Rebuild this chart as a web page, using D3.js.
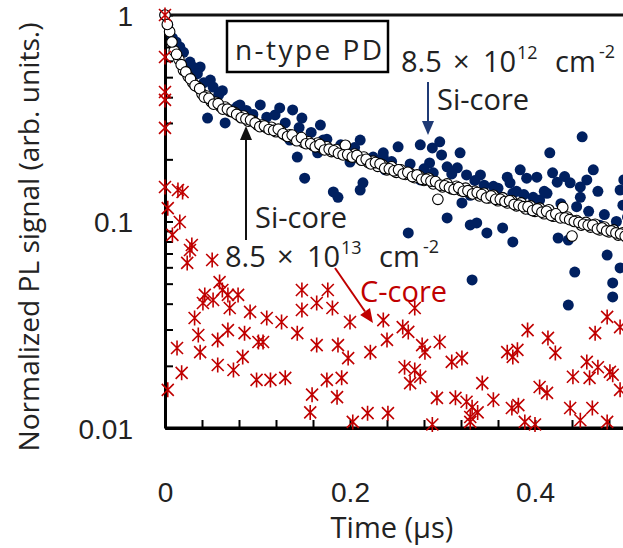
<!DOCTYPE html>
<html lang="en">
<head>
  <meta charset="UTF-8">
  <title>Normalized PL decay, n-type PD</title>
  <script src="https://d3js.org/d3.v7.min.js"></script>
  <style>
    body { margin: 0; background: #fff; }
    svg { font-family: "Open Sans", "Noto Sans", sans-serif; display: block; }
    .axis text { font-size: 28px; fill: #222; }
    .note { font-size: 29px; fill: #222; }
  </style>
</head>
<body>
<svg width="623" height="548"></svg>

<script>
  // Si-core, 8.5 x 10^13 cm^-2 (open circles): [time (us), normalized PL]
  const siCoreHigh = [
    [0,1.0],[0.005,0.83],[0.01,0.67],[0.015,0.61],[0.02,0.54],[0.025,0.505],[0.03,0.47],[0.035,0.45],
    [0.04,0.415],[0.045,0.405],[0.05,0.38],[0.055,0.378],[0.06,0.36],[0.065,0.358],[0.07,0.342],
    [0.075,0.338],[0.08,0.325],[0.085,0.324],[0.09,0.306],[0.095,0.307],[0.1,0.294],[0.105,0.293],
    [0.11,0.284],[0.115,0.286],[0.12,0.272],[0.125,0.275],[0.13,0.262],[0.135,0.263],[0.14,0.25],
    [0.145,0.252],[0.15,0.241],[0.155,0.243],[0.16,0.234],[0.165,0.24],[0.17,0.226],[0.175,0.23],
    [0.18,0.218],[0.185,0.223],[0.19,0.213],[0.195,0.234],[0.2,0.207],[0.205,0.212],[0.21,0.202],
    [0.215,0.205],[0.22,0.193],[0.225,0.196],[0.23,0.185],[0.235,0.188],[0.24,0.178],[0.245,0.184],
    [0.25,0.173],[0.255,0.178],[0.26,0.169],[0.265,0.171],[0.27,0.163],[0.275,0.166],[0.28,0.158],
    [0.285,0.162],[0.29,0.152],[0.295,0.128],[0.3,0.147],[0.305,0.152],[0.31,0.144],[0.315,0.148],
    [0.32,0.141],[0.325,0.145],[0.33,0.138],[0.335,0.14],[0.34,0.133],[0.345,0.137],[0.35,0.13],
    [0.355,0.134],[0.36,0.126],[0.365,0.13],[0.37,0.123],[0.375,0.126],[0.38,0.119],[0.385,0.123],
    [0.39,0.115],[0.395,0.119],[0.4,0.112],[0.405,0.116],[0.41,0.109],[0.415,0.114],[0.42,0.106],
    [0.425,0.108],[0.43,0.117],[0.435,0.105],[0.44,0.085],[0.445,0.101],[0.45,0.096],[0.455,0.099],
    [0.46,0.094],[0.465,0.097],[0.47,0.091],[0.475,0.094],[0.48,0.089],[0.485,0.091],[0.49,0.086],
    [0.495,0.088],[0.5,0.083],
    [0.0025,0.90],[0.0075,0.74],[0.0125,0.645],[0.0175,0.575],[0.0225,0.53],[0.0275,0.49],
    [0.0325,0.455],[0.0375,0.44],[0.0425,0.40],[0.0475,0.395],[0.0525,0.37],[0.0575,0.372],
    [0.0625,0.35],[0.0675,0.35],[0.0725,0.34],[0.0775,0.33],[0.0825,0.318],[0.0875,0.314],
    [0.0925,0.31],[0.0975,0.30],[0.1025,0.288],[0.1075,0.29],[0.1125,0.279],[0.1175,0.276],
    [0.1225,0.28],[0.1275,0.266],[0.1325,0.258],[0.1375,0.262],[0.1425,0.246],[0.1475,0.255],
    [0.1525,0.238],[0.1575,0.238],[0.1625,0.23],[0.1675,0.236],[0.1725,0.222],[0.1775,0.224],
    [0.1825,0.22],[0.1875,0.214],[0.1925,0.21],[0.1975,0.211],[0.2025,0.205],[0.2075,0.209],
    [0.2125,0.198],[0.2175,0.2],[0.2225,0.19],[0.2275,0.193],[0.2325,0.19],[0.2375,0.181],
    [0.2425,0.18],[0.2475,0.176],[0.2525,0.178],[0.2575,0.17],[0.2625,0.173],[0.2675,0.165],
    [0.2725,0.168],[0.2775,0.16],[0.2825,0.16],[0.2875,0.157],[0.2925,0.156],[0.2975,0.15],
    [0.3025,0.149],[0.3075,0.146],[0.3125,0.143],[0.3175,0.146],[0.3225,0.14],[0.3275,0.141],
    [0.3325,0.136],[0.3375,0.138],[0.3425,0.135],[0.3475,0.13],[0.3525,0.133],[0.3575,0.128],
    [0.3625,0.128],[0.3675,0.125],[0.3725,0.126],[0.3775,0.121],[0.3825,0.12],[0.3875,0.118],
    [0.3925,0.118],[0.3975,0.113],[0.4025,0.115],[0.4075,0.111],[0.4125,0.112],[0.4175,0.107],
    [0.4225,0.109],[0.4275,0.104],[0.4325,0.104],[0.4375,0.102],[0.4425,0.1],[0.4475,0.099],
    [0.4525,0.097],[0.4575,0.096],[0.4625,0.096],[0.4675,0.092],[0.4725,0.093],[0.4775,0.09],
    [0.4825,0.09],[0.4875,0.088],[0.4925,0.087],[0.4975,0.085]
  ];

  // Si-core, 8.5 x 10^12 cm^-2 (filled navy dots)
  const siCoreLow = [
    [0,1.0],[0.003,0.894],[0.008,0.774],[0.016,0.70],[0.027,0.592],[0.038,0.56],[0.046,0.317],
    [0.049,0.484],[0.052,0.448],[0.065,0.30],[0.072,0.347],[0.081,0.367],[0.103,0.367],[0.103,0.293],
    [0.119,0.328],[0.124,0.355],[0.135,0.248],[0.138,0.347],[0.143,0.205],[0.148,0.317],[0.151,0.162],
    [0.165,0.215],[0.168,0.293],[0.171,0.248],[0.182,0.139],[0.187,0.131],[0.2,0.194],[0.211,0.248],
    [0.211,0.142],[0.214,0.154],[0.236,0.215],[0.236,0.205],[0.238,0.178],[0.251,0.178],[0.252,0.23],
    [0.263,0.088],[0.276,0.235],[0.276,0.159],[0.286,0.192],[0.289,0.227],[0.297,0.243],[0.299,0.21],
    [0.305,0.184],[0.305,0.104],[0.316,0.182],[0.319,0.215],[0.321,0.123],[0.326,0.168],[0.33,0.0962],
    [0.33,0.134],[0.332,0.0521],[0.337,0.0984],[0.341,0.168],[0.348,0.088],[0.365,0.131],[0.365,0.0931],
    [0.37,0.164],[0.373,0.154],[0.376,0.137],[0.376,0.0796],[0.384,0.178],[0.391,0.162],[0.395,0.114],
    [0.398,0.131],[0.402,0.164],[0.413,0.137],[0.416,0.215],[0.419,0.172],[0.424,0.155],[0.425,0.0832],
    [0.436,0.0813],[0.436,0.0394],[0.438,0.154],[0.443,0.0569],[0.449,0.147],[0.449,0.131],[0.451,0.257],
    [0.456,0.159],[0.463,0.178],[0.47,0.096],[0.478,0.0688],[0.484,0.0504],[0.484,0.0431],[0.492,0.142],
    [0.492,0.0596],
    [0.012,0.74],[0.02,0.66],[0.03,0.56],[0.035,0.52],[0.042,0.47],[0.058,0.41],[0.062,0.43],
    [0.078,0.36],[0.088,0.345],[0.095,0.33],[0.11,0.32],[0.13,0.3],[0.145,0.285],[0.158,0.27],
    [0.175,0.25],[0.19,0.235],[0.205,0.228],[0.225,0.205],[0.245,0.195],[0.265,0.19],[0.28,0.18],
    [0.29,0.172],[0.31,0.17],[0.335,0.158],[0.345,0.15],[0.355,0.148],[0.36,0.145],[0.38,0.14],
    [0.388,0.135],[0.405,0.127],[0.41,0.14],[0.428,0.122],[0.432,0.165],[0.445,0.118],[0.458,0.112],
    [0.468,0.14],[0.475,0.108],[0.488,0.1],[0.495,0.12],[0.5,0.105],[0.496,0.159]
  ];

  // C-core, 8.5 x 10^13 cm^-2 (red asterisks)
  const cCore = [
    [0,1.0],[0,0.626],[0,0.424],[0,0.388],[0,0.284],[0,0.147],[0.003,0.116],[0.003,0.0153],
    [0.008,0.0861],[0.013,0.0244],[0.014,0.142],[0.016,0.0995],[0.018,0.0185],[0.019,0.139],
    [0.024,0.063],[0.027,0.0728],[0.029,0.0769],[0.032,0.0341],[0.036,0.0282],[0.038,0.0233],
    [0.041,0.0403],[0.043,0.0441],[0.051,0.0651],[0.052,0.0417],[0.057,0.0267],[0.057,0.0202],
    [0.059,0.0509],[0.062,0.0466],[0.068,0.0441],[0.068,0.0298],[0.07,0.0381],[0.074,0.0191],
    [0.079,0.0441],[0.084,0.0221],[0.086,0.0288],[0.092,0.0365],[0.099,0.0171],[0.101,0.0261],
    [0.106,0.0261],[0.11,0.0341],[0.114,0.0171],[0.126,0.0326],[0.13,0.0175],[0.143,0.0288],
    [0.148,0.0466],[0.148,0.0373],[0.157,0.0119],[0.159,0.0145],[0.164,0.0403],[0.164,0.0252],
    [0.175,0.0171],[0.176,0.0466],[0.181,0.0381],[0.186,0.0141],[0.187,0.0252],[0.191,0.0175],
    [0.198,0.0218],[0.2,0.0326],[0.203,0.0107],[0.219,0.0118],[0.222,0.0233],[0.236,0.0333],
    [0.24,0.0267],[0.241,0.0118],[0.257,0.0308],[0.259,0.0197],[0.263,0.0292],[0.265,0.0165],
    [0.27,0.0381],[0.27,0.0191],[0.276,0.0177],[0.278,0.0252],[0.281,0.0233],[0.289,0.0104],
    [0.294,0.014],[0.297,0.0261],[0.31,0.0209],[0.314,0.014],[0.321,0.0218],[0.326,0.0134],
    [0.33,0.0113],[0.33,0.0107],[0.332,0.0126],[0.338,0.0119],[0.343,0.0165],[0.355,0.0137],
    [0.37,0.0233],[0.375,0.0125],[0.376,0.0221],[0.381,0.0239],[0.382,0.0129],[0.389,0.0107],
    [0.392,0.0298],[0.4,0.0104],[0.405,0.0158],[0.413,0.0148],[0.414,0.0273],[0.422,0.0231],
    [0.438,0.0125],[0.441,0.0177],[0.449,0.0109],[0.456,0.0209],[0.459,0.0175],[0.462,0.0125],
    [0.465,0.0288],[0.468,0.0197],[0.478,0.0345],[0.478,0.0107],[0.481,0.0187],[0.484,0.0181],
    [0.492,0.0308],[0.492,0.0153]
  ];

  const xTicks = [0, 0.04, 0.08, 0.12, 0.16, 0.2, 0.24, 0.28, 0.32, 0.36, 0.4, 0.44, 0.48];
  const xLabels = {0: "0", 0.2: "0.2", 0.4: "0.4"};
  const yTicks = [0.01, 0.02, 0.03, 0.04, 0.05, 0.06, 0.07, 0.08, 0.09,
                  0.1, 0.2, 0.3, 0.4, 0.5, 0.6, 0.7, 0.8, 0.9, 1];
  const yLabels = {1: "1", 0.1: "0.1", 0.01: "0.01"};

  const svg = d3.select("svg");
  const W = 623;

  const x = d3.scaleLinear().domain([0, 0.5]).range([165, 627.5]);
  const y = d3.scaleLog().domain([0.01, 1]).range([428, 15]);

  const navy = "#002060", red = "#c00000";

  // axes, ticks pointing into the plot
  const xAxis = svg.append("g")
    .attr("class", "axis")
    .attr("transform", `translate(0,${y(0.01)})`)
    .call(d3.axisBottom(x).tickValues(xTicks).tickSizeInner(-8).tickSizeOuter(0)
      .tickFormat(d => xLabels[d] || ""));
  xAxis.select(".domain").attr("stroke", "#000").attr("stroke-width", 3);
  xAxis.selectAll(".tick line").attr("stroke", "#000").attr("stroke-width", 2);
  xAxis.selectAll(".tick text").attr("y", 74).attr("dy", null)
    .attr("font-family", null).attr("font-size", null);
  // extend the baseline to the right edge of the window
  svg.append("line").attr("x1", 165).attr("x2", W)
    .attr("y1", y(0.01)).attr("y2", y(0.01)).attr("stroke", "#000").attr("stroke-width", 3);

  const yAxis = svg.append("g")
    .attr("class", "axis")
    .attr("transform", `translate(${x(0)},0)`)
    .call(d3.axisLeft(y).tickValues(yTicks).tickSizeInner(-8).tickSizeOuter(0)
      .tickFormat(d => yLabels[d] || ""));
  yAxis.select(".domain").attr("stroke", "#000").attr("stroke-width", 3);
  yAxis.selectAll(".tick line").attr("stroke", "#000").attr("stroke-width", 2);
  yAxis.selectAll(".tick text").attr("x", -32).attr("dy", "0.36em")
    .attr("font-family", null).attr("font-size", null);

  // top frame line
  svg.append("line").attr("x1", x(0)).attr("x2", W)
    .attr("y1", y(1)).attr("y2", y(1)).attr("stroke", "#111").attr("stroke-width", 3);

  // axis titles
  svg.append("text")
    .attr("x", 392).attr("y", 538)
    .attr("text-anchor", "middle").attr("font-size", 29).attr("fill", "#222")
    .text("Time (μs)");
  svg.append("text")
    .attr("transform", "translate(39,237) rotate(-90)")
    .attr("text-anchor", "middle").attr("font-size", 27).attr("fill", "#222")
    .attr("textLength", 429).attr("lengthAdjust", "spacingAndGlyphs")
    .text("Normalized PL signal (arb. units.)");

  // series: navy dots, open circles, red asterisks
  svg.append("g").selectAll("circle")
    .data(siCoreLow).join("circle")
    .attr("cx", d => x(d[0])).attr("cy", d => y(d[1]))
    .attr("r", 5.5).attr("fill", navy);

  svg.append("g").selectAll("circle")
    .data(siCoreHigh).join("circle")
    .attr("cx", d => x(d[0])).attr("cy", d => y(d[1]))
    .attr("r", 5.3).attr("fill", "#fff").attr("stroke", "#000").attr("stroke-width", 1.1);

  const star = "M-6,-6L6,6M-6,6L6,-6M0,-7.5L0,7.5";
  svg.append("g").selectAll("path")
    .data(cCore).join("path")
    .attr("transform", d => `translate(${x(d[0])},${y(d[1])})`)
    .attr("d", star).attr("fill", "none").attr("stroke", red).attr("stroke-width", 1.6);

  // legend box
  svg.append("rect")
    .attr("x", 227).attr("y", 21).attr("width", 161).attr("height", 51)
    .attr("fill", "#fff").attr("stroke", "#000").attr("stroke-width", 2.5);
  svg.append("text").attr("class", "note")
    .attr("x", 235).attr("y", 60).style("font-size", "28px")
    .attr("textLength", 147).attr("lengthAdjust", "spacing")
    .text("n-type PD");

  // dose labels with superscripts
  function doseLabel(x0, base, exp) {
    const t = svg.append("text").attr("class", "note").attr("y", base);
    t.append("tspan").attr("x", x0).text("8.5");
    t.append("tspan").attr("x", x0 + 52).text("×");
    t.append("tspan").attr("x", x0 + 82).text("10");
    t.append("tspan").attr("x", x0 + 116).attr("y", base - 13).style("font-size", "18px").text(exp);
    t.append("tspan").attr("x", x0 + 154).attr("y", base).text("cm");
    t.append("tspan").attr("x", x0 + 198).attr("y", base - 14).style("font-size", "18px").text("-2");
  }
  doseLabel(401, 72, "12");
  doseLabel(225, 267, "13");

  svg.append("text").attr("class", "note").attr("x", 437).attr("y", 110).text("Si-core");
  svg.append("text").attr("class", "note").attr("x", 255).attr("y", 228).text("Si-core");
  svg.append("text").attr("class", "note").attr("x", 360).attr("y", 302)
    .style("fill", red).text("C-core");

  // arrows
  function arrow(x1, y1, x2, y2, color, w) {
    const a = Math.atan2(y2 - y1, x2 - x1), L = 14, H = 6;
    const bx = x2 - L * Math.cos(a), by = y2 - L * Math.sin(a);
    svg.append("line").attr("x1", x1).attr("y1", y1).attr("x2", bx).attr("y2", by)
      .attr("stroke", color).attr("stroke-width", w);
    svg.append("path")
      .attr("d", `M${x2},${y2}L${bx - H * Math.sin(a)},${by + H * Math.cos(a)}` +
                 `L${bx + H * Math.sin(a)},${by - H * Math.cos(a)}Z`)
      .attr("fill", color);
  }
  arrow(428, 82, 428, 135, "#1f3a75", 2);
  arrow(246, 240, 246, 126, "#111", 2);
  arrow(335, 268, 373, 323, red, 2);
</script>

</body>
</html>
